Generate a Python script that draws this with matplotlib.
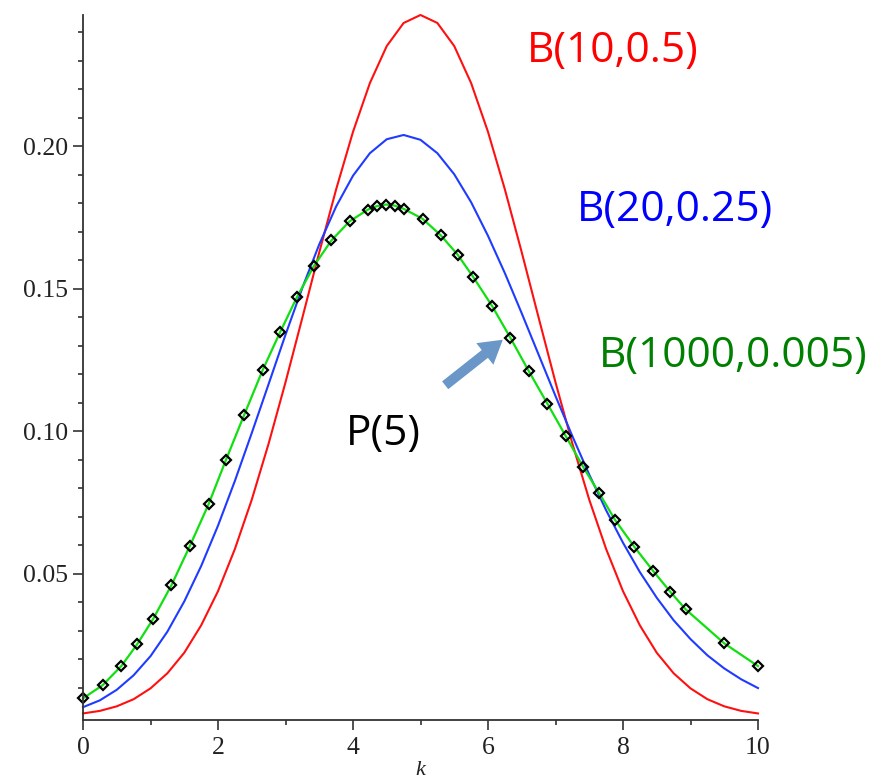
import matplotlib.pyplot as plt
from matplotlib.patches import FancyArrowPatch
from matplotlib.ticker import FixedLocator

# valeurs
k_grid = [0.0, 0.25, 0.5, 0.75, 1.0, 1.25, 1.5, 1.75, 2.0, 2.25, 2.5, 2.75,
          3.0, 3.25, 3.5, 3.75, 4.0, 4.25, 4.5, 4.75, 5.0, 5.25, 5.5, 5.75,
          6.0, 6.25, 6.5, 6.75, 7.0, 7.25, 7.5, 7.75, 8.0, 8.25, 8.5, 8.75,
          9.0, 9.25, 9.5, 9.75, 10.0]
b10 = [0.0010, 0.0019, 0.0035, 0.0060, 0.0098, 0.0151, 0.0223, 0.0319, 0.0439,
       0.0587, 0.0760, 0.0957, 0.1172, 0.1399, 0.1628, 0.1849, 0.2051, 0.2222,
       0.2352, 0.2433, 0.2461, 0.2433, 0.2352, 0.2222, 0.2051, 0.1849, 0.1628,
       0.1399, 0.1172, 0.0957, 0.0760, 0.0587, 0.0439, 0.0319, 0.0223, 0.0151,
       0.0098, 0.0060, 0.0035, 0.0019, 0.0010]
b20 = [0.0032, 0.0056, 0.0093, 0.0144, 0.0211, 0.0297, 0.0403, 0.0527, 0.0669,
       0.0826, 0.0994, 0.1166, 0.1339, 0.1504, 0.1656, 0.1789, 0.1897, 0.1976,
       0.2025, 0.2040, 0.2023, 0.1976, 0.1902, 0.1804, 0.1686, 0.1555, 0.1414,
       0.1269, 0.1124, 0.0983, 0.0848, 0.0723, 0.0609, 0.0506, 0.0416, 0.0337,
       0.0271, 0.0214, 0.0168, 0.0130, 0.0099]
k_pts = [0.00, 0.29, 0.57, 0.80, 1.04, 1.31, 1.58, 1.86, 2.12, 2.39, 2.66, 2.92,
         3.17, 3.42, 3.68, 3.95, 4.22, 4.35, 4.49, 4.62, 4.75, 5.03, 5.30, 5.55,
         5.78, 6.06, 6.33, 6.60, 6.88, 7.15, 7.41, 7.65, 7.88, 8.17, 8.45, 8.70,
         8.93, 9.50, 10.00]
b1000 = [0.0063, 0.0109, 0.0177, 0.0252, 0.0342, 0.0460, 0.0596, 0.0744, 0.0901,
         0.1059, 0.1214, 0.1348, 0.1471, 0.1580, 0.1670, 0.1737, 0.1778, 0.1790,
         0.1796, 0.1792, 0.1781, 0.1746, 0.1688, 0.1620, 0.1542, 0.1440, 0.1329,
         0.1213, 0.1097, 0.0984, 0.0875, 0.0782, 0.0690, 0.0594, 0.0509, 0.0437,
         0.0375, 0.0256, 0.0176]
y_major = [0.05, 0.10, 0.15, 0.20]
y_minor = [0.01, 0.02, 0.03, 0.04, 0.06, 0.07, 0.08, 0.09, 0.11, 0.12, 0.13,
           0.14, 0.16, 0.17, 0.18, 0.19, 0.21, 0.22, 0.23, 0.24]
x_major = [0, 2, 4, 6, 8, 10]
x_minor = [1, 3, 5, 7, 9]

W, H = 888, 779
fig = plt.figure(figsize=(W / 100, H / 100), dpi=100)
ax = fig.add_axes([83 / W, 1 - 720 / H, 675 / W, 705 / H])

ax.plot(k_grid, b10, color='#FF1010', lw=1.5, clip_on=False)
ax.plot(k_grid, b20, color='#1F3BFF', lw=1.5, clip_on=False)
ax.plot(k_pts, b1000, color='#10E010', lw=1.6, marker='D', ms=4.6,
        mfc='none', mec='black', mew=1.6, clip_on=False)

ax.set_xlim(0, 10)
ax.set_ylim(-0.0013, 0.2461)
for s in ['top', 'right']:
    ax.spines[s].set_visible(False)
for s in ['left', 'bottom']:
    ax.spines[s].set_color('#333333')
    ax.spines[s].set_linewidth(1.3)

ax.xaxis.set_major_locator(FixedLocator(x_major))
ax.xaxis.set_minor_locator(FixedLocator(x_minor))
ax.yaxis.set_major_locator(FixedLocator(y_major))
ax.yaxis.set_minor_locator(FixedLocator(y_minor))
ax.set_xticklabels([str(v) for v in x_major])
ax.set_yticklabels(['%.2f' % v for v in y_major])
ax.tick_params(which='major', length=7.5, width=1.2, color='#333333', pad=4.5)
ax.tick_params(which='minor', length=3.8, width=1.2, color='#333333')
ax.tick_params(axis='y', which='major', pad=3)
for lab in ax.get_xticklabels() + ax.get_yticklabels():
    lab.set_fontfamily('Liberation Serif')
    lab.set_fontsize(18.5)
    lab.set_color('#222222')

fig.text(420 / W, 1 - 761 / H, 'k', family='Liberation Serif', style='italic',
         fontsize=16, ha='center', va='top', color='#222222')

sans = ['Open Sans', 'DejaVu Sans']
fig.text(527 / W, 1 - 62 / H, 'B(10,0.5)', color='#FF0000', family=sans,
         fontsize=30.5, ha='left', va='baseline')
fig.text(577 / W, 1 - 221 / H, 'B(20,0.25)', color='#0000FF', family=sans,
         fontsize=30.5, ha='left', va='baseline')
fig.text(599 / W, 1 - 367 / H, 'B(1000,0.005)', color='#008000', family=sans,
         fontsize=30.5, ha='left', va='baseline')
fig.text(346 / W, 1 - 445 / H, 'P(5)', color='black', family=sans,
         fontsize=30.5, ha='left', va='baseline')

arrow = FancyArrowPatch((443 / W, 1 - 387 / H), (505 / W, 1 - 338 / H),
                        transform=fig.transFigure,
                        arrowstyle='simple,tail_width=0.65,head_width=1.8,head_length=1.5',
                        mutation_scale=11, color='#6A97C8', lw=0)
fig.add_artist(arrow)

fig.savefig('out.png', dpi=100)
